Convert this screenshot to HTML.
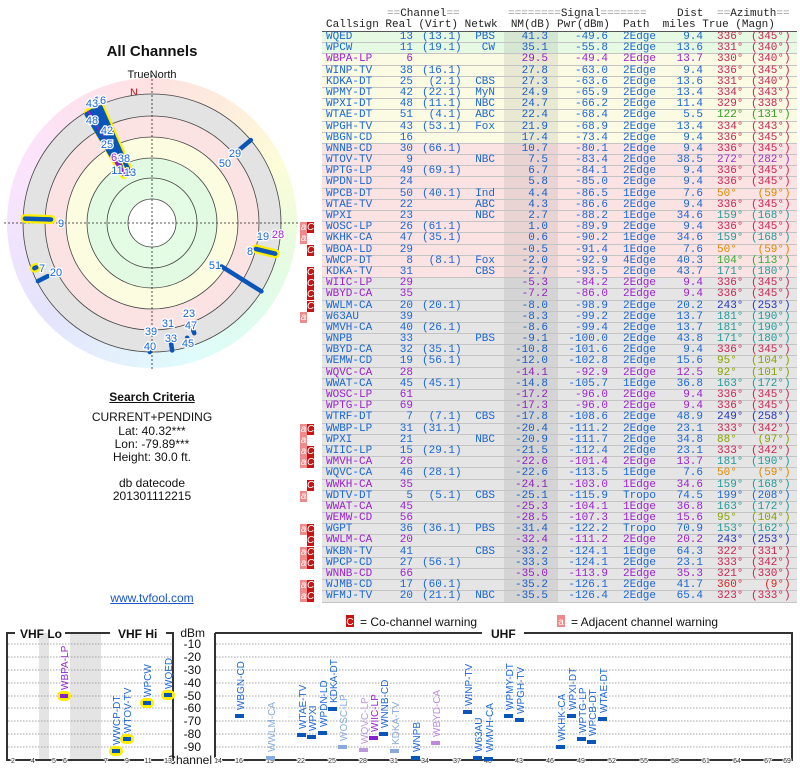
<!DOCTYPE html>
<html><head><meta charset="utf-8"><style>
body{margin:0;width:800px;height:768px;background:#fff;overflow:hidden;position:relative;font-family:"Liberation Sans",sans-serif}
#tbl{position:absolute;left:322px;top:32px;width:475px;font-family:"Liberation Mono",monospace;font-size:11px;color:#1a66d6}
.r{position:relative;height:11.2px;box-sizing:border-box;border-bottom:1px solid #c4c4c4;line-height:11px;white-space:pre}
.r span{position:absolute;top:0}
.G{background:#e6f9e2}.Y{background:#fbfbe4}.P{background:#fbe3e3}.X{background:#e5e5e5}
.r:after{content:"";position:absolute;left:182px;width:54px;top:0;bottom:0;background:rgba(0,0,0,0.07)}
.pu{color:#9a22d0}
.a{left:4px}.b{left:0;width:91px;text-align:right}.v{left:100px}.n{left:140px;width:33px;text-align:right}
.m{left:180px;width:46px;text-align:right}.p{left:230px;width:56px;text-align:right}.h{left:301px}
.d{left:330px;width:51px;text-align:right}.t{left:395px}.g{left:429px}
.k1{color:#cc2255}.k2{color:#339922}.k3{color:#9933bb}.k4{color:#dd8800}.k5{color:#1f9a9a}.k6{color:#33aa33}.k7{color:#88a000}.k8{color:#2233bb}.k9{color:#2266cc}.k0{color:#dd2222}
.wa,.wc{position:absolute;top:0;width:7px;height:11px;color:#fff;font-size:10px;line-height:11px;text-align:center;font-family:"Liberation Sans",sans-serif}
.wa{left:-22px;background:#f08a8a}.wc{left:-15px;background:#c81414}
#hdr{position:absolute;left:322px;top:8px;width:475px;height:23px;font-family:"Liberation Mono",monospace;font-size:11px;color:#222;border-bottom:1px solid #555;white-space:pre}
#hdr span{position:absolute}
.eq{color:#999}
.lt{position:absolute;width:300px;text-align:center;left:2px;font-size:12px;color:#111}
</style></head><body>

<div style="position:absolute;left:7px;top:78px;width:290px;height:290px;border-radius:50%;background:conic-gradient(hsl(0,90%,94%),hsl(30,90%,93%),hsl(60,90%,92%),hsl(100,80%,93%),hsl(150,80%,93%),hsl(180,80%,93%),hsl(210,80%,94%),hsl(240,80%,94%),hsl(270,80%,94%),hsl(300,80%,94%),hsl(330,90%,94%),hsl(360,90%,94%))"></div>

<svg width="300" height="768" style="position:absolute;left:0;top:0" font-family="Liberation Sans, sans-serif">
<text x="152" y="56" text-anchor="middle" font-size="15" font-weight="bold" fill="#111">All Channels</text>
<text x="152" y="78" text-anchor="middle" font-size="11" fill="#111">TrueNorth</text>
<text x="134" y="96" text-anchor="middle" font-size="11" fill="#cc1111">N</text>
<g transform="translate(152,223)">
<circle r="129" fill="#e3e3e3" stroke="#444" stroke-width="0.8"/>
<circle r="107" fill="#fce3e3" stroke="#444" stroke-width="0.8"/>
<circle r="86" fill="#fcfce0" stroke="#444" stroke-width="0.8"/>
<circle r="65" fill="#e2fae2" stroke="#444" stroke-width="0.8"/>
<circle r="45" fill="#e4fbe4" stroke="#444" stroke-width="0.8"/>
<circle r="24" fill="#fff" stroke="#444" stroke-width="0.8"/>
<line x1="-148" y1="0" x2="148" y2="0" stroke="#222" stroke-width="0.8" stroke-dasharray="2,2"/>
<line x1="0" y1="-148" x2="0" y2="148" stroke="#222" stroke-width="0.8" stroke-dasharray="2,2"/>
<g stroke-linecap="round">
<g stroke="#ffee00" stroke-width="9">
<line transform="rotate(336)" x1="0" y1="-56" x2="0" y2="-127"/>
<line transform="rotate(331)" x1="0" y1="-65" x2="0" y2="-127"/>
<line transform="rotate(330)" x1="0" y1="-56" x2="0" y2="-127"/>
<line transform="rotate(272)" x1="0" y1="-101" x2="0" y2="-127"/>
<line transform="rotate(104)" x1="0" y1="-107" x2="0" y2="-127"/>
<line transform="rotate(249)" x1="0" y1="-124" x2="0" y2="-126"/>
</g>
<g stroke="#0a55b8" stroke-width="4.5">
<line transform="rotate(336)" x1="0" y1="-56" x2="0" y2="-127"/>
<line transform="rotate(331)" x1="0" y1="-65" x2="0" y2="-127"/>
<line transform="rotate(330)" x1="0" y1="-56" x2="0" y2="-127" stroke="#8822cc"/>
<line transform="rotate(336)" x1="0" y1="-75" x2="0" y2="-127"/>
<line transform="rotate(332)" x1="0" y1="-76" x2="0" y2="-127"/>
<line transform="rotate(334)" x1="0" y1="-79" x2="0" y2="-127"/>
<line transform="rotate(329)" x1="0" y1="-79" x2="0" y2="-127"/>
<line transform="rotate(122)" x1="0" y1="-82" x2="0" y2="-129"/>
<line transform="rotate(272)" x1="0" y1="-101" x2="0" y2="-127"/>
<line transform="rotate(50)" x1="0" y1="-115" x2="0" y2="-129"/>
<line transform="rotate(104)" x1="0" y1="-107" x2="0" y2="-127"/>
<line transform="rotate(249)" x1="0" y1="-124" x2="0" y2="-126"/>
<line transform="rotate(243)" x1="0" y1="-117" x2="0" y2="-128"/>
<line transform="rotate(159)" x1="0" y1="-112" x2="0" y2="-118"/>
<line transform="rotate(163)" x1="0" y1="-120" x2="0" y2="-128"/>
<line transform="rotate(171)" x1="0" y1="-117" x2="0" y2="-129"/>
<line transform="rotate(181)" x1="0" y1="-122" x2="0" y2="-129"/>
<line transform="rotate(95)" x1="0" y1="-122" x2="0" y2="-128" stroke-width="2"/>
</g></g>
<g font-size="11" fill="#1a66d6" stroke="#fff" stroke-width="2.5" paint-order="stroke" text-anchor="middle">
<text x="-52" y="-119">16</text><text x="-60" y="-116">43</text><text x="-60" y="-99">48</text>
<text x="-45" y="-89">42</text><text x="-45" y="-75">25</text><text x="-38" y="-62" fill="#9a22d0">6</text>
<text x="-28" y="-61">38</text><text x="-35" y="-49">11</text><text x="-22" y="-47">13</text>
<text x="83" y="-66">29</text><text x="73" y="-56">50</text>
<text x="-91" y="4">9</text><text x="98" y="32">8</text><text x="111" y="17">19</text><text x="126" y="15" fill="#9a22d0">28</text>
<text x="63" y="46">51</text><text x="-110" y="49">7</text><text x="-96" y="53">20</text>
<text x="37" y="94">23</text><text x="39" y="106">47</text><text x="36" y="124">45</text>
<text x="16" y="104">31</text><text x="19" y="119">33</text><text x="-1" y="112">39</text><text x="-2" y="127">40</text>
</g></g>
</svg>

<div class="lt" style="top:390px;font-weight:bold;text-decoration:underline">Search Criteria</div>
<div class="lt" style="top:410px">CURRENT+PENDING</div>
<div class="lt" style="top:424px">Lat: 40.32***</div>
<div class="lt" style="top:437px">Lon: -79.89***</div>
<div class="lt" style="top:450px">Height: 30.0 ft.</div>
<div class="lt" style="top:476px">db datecode</div>
<div class="lt" style="top:489px">201301112215</div>
<div class="lt" style="top:591px;color:#1a55cc;text-decoration:underline">www.tvfool.com</div>

<div id="hdr">
<span style="left:65px;top:0"><b class="eq" style="font-weight:normal">==</b>Channel<b class="eq" style="font-weight:normal">==</b></span>
<span style="left:186px;top:0"><b class="eq" style="font-weight:normal">========</b>Signal<b class="eq" style="font-weight:normal">=======</b></span>
<span style="left:355px;top:0">Dist</span>
<span style="left:395px;top:0"><b class="eq" style="font-weight:normal">==</b>Azimuth<b class="eq" style="font-weight:normal">==</b></span>
<span style="left:4px;top:11px">Callsign Real (Virt) Netwk  NM(dB) Pwr(dBm)  Path  miles True (Magn)</span>
</div>

<div id="tbl">
<div class="r G"><span class="a">WQED</span><span class="b">13</span><span class="v">(13.1)</span><span class="n">PBS</span><span class="m">41.3</span><span class="p">-49.6</span><span class="h">2Edge</span><span class="d">9.4</span><span class="t k1">336°</span><span class="g k1">(345°)</span></div>
<div class="r G"><span class="a">WPCW</span><span class="b">11</span><span class="v">(19.1)</span><span class="n">CW</span><span class="m">35.1</span><span class="p">-55.8</span><span class="h">2Edge</span><span class="d">13.6</span><span class="t k1">331°</span><span class="g k1">(340°)</span></div>
<div class="r Y pu"><span class="a">WBPA-LP</span><span class="b">6</span><span class="m">29.5</span><span class="p">-49.4</span><span class="h">2Edge</span><span class="d">13.7</span><span class="t k1">330°</span><span class="g k1">(340°)</span></div>
<div class="r Y"><span class="a">WINP-TV</span><span class="b">38</span><span class="v">(16.1)</span><span class="m">27.8</span><span class="p">-63.0</span><span class="h">2Edge</span><span class="d">9.4</span><span class="t k1">336°</span><span class="g k1">(345°)</span></div>
<div class="r Y"><span class="a">KDKA-DT</span><span class="b">25</span><span class="v"> (2.1)</span><span class="n">CBS</span><span class="m">27.3</span><span class="p">-63.6</span><span class="h">2Edge</span><span class="d">13.6</span><span class="t k1">331°</span><span class="g k1">(340°)</span></div>
<div class="r Y"><span class="a">WPMY-DT</span><span class="b">42</span><span class="v">(22.1)</span><span class="n">MyN</span><span class="m">24.9</span><span class="p">-65.9</span><span class="h">2Edge</span><span class="d">13.4</span><span class="t k1">334°</span><span class="g k1">(343°)</span></div>
<div class="r Y"><span class="a">WPXI-DT</span><span class="b">48</span><span class="v">(11.1)</span><span class="n">NBC</span><span class="m">24.7</span><span class="p">-66.2</span><span class="h">2Edge</span><span class="d">11.4</span><span class="t k1">329°</span><span class="g k1">(338°)</span></div>
<div class="r Y"><span class="a">WTAE-DT</span><span class="b">51</span><span class="v"> (4.1)</span><span class="n">ABC</span><span class="m">22.4</span><span class="p">-68.4</span><span class="h">2Edge</span><span class="d">5.5</span><span class="t k2">122°</span><span class="g k2">(131°)</span></div>
<div class="r Y"><span class="a">WPGH-TV</span><span class="b">43</span><span class="v">(53.1)</span><span class="n">Fox</span><span class="m">21.9</span><span class="p">-68.9</span><span class="h">2Edge</span><span class="d">13.4</span><span class="t k1">334°</span><span class="g k1">(343°)</span></div>
<div class="r Y"><span class="a">WBGN-CD</span><span class="b">16</span><span class="m">17.4</span><span class="p">-73.4</span><span class="h">2Edge</span><span class="d">9.4</span><span class="t k1">336°</span><span class="g k1">(345°)</span></div>
<div class="r P"><span class="a">WNNB-CD</span><span class="b">30</span><span class="v">(66.1)</span><span class="m">10.7</span><span class="p">-80.1</span><span class="h">2Edge</span><span class="d">9.4</span><span class="t k1">336°</span><span class="g k1">(345°)</span></div>
<div class="r P"><span class="a">WTOV-TV</span><span class="b">9</span><span class="n">NBC</span><span class="m">7.5</span><span class="p">-83.4</span><span class="h">2Edge</span><span class="d">38.5</span><span class="t k3">272°</span><span class="g k3">(282°)</span></div>
<div class="r P"><span class="a">WPTG-LP</span><span class="b">49</span><span class="v">(69.1)</span><span class="m">6.7</span><span class="p">-84.1</span><span class="h">2Edge</span><span class="d">9.4</span><span class="t k1">336°</span><span class="g k1">(345°)</span></div>
<div class="r P"><span class="a">WPDN-LD</span><span class="b">24</span><span class="m">5.8</span><span class="p">-85.0</span><span class="h">2Edge</span><span class="d">9.4</span><span class="t k1">336°</span><span class="g k1">(345°)</span></div>
<div class="r P"><span class="a">WPCB-DT</span><span class="b">50</span><span class="v">(40.1)</span><span class="n">Ind</span><span class="m">4.4</span><span class="p">-86.5</span><span class="h">1Edge</span><span class="d">7.6</span><span class="t k4">50°</span><span class="g k4"> (59°)</span></div>
<div class="r P"><span class="a">WTAE-TV</span><span class="b">22</span><span class="n">ABC</span><span class="m">4.3</span><span class="p">-86.6</span><span class="h">2Edge</span><span class="d">9.4</span><span class="t k1">336°</span><span class="g k1">(345°)</span></div>
<div class="r P"><span class="a">WPXI</span><span class="b">23</span><span class="n">NBC</span><span class="m">2.7</span><span class="p">-88.2</span><span class="h">1Edge</span><span class="d">34.6</span><span class="t k5">159°</span><span class="g k5">(168°)</span></div>
<div class="r P"><i class="wa">a</i><i class="wc">C</i><span class="a">WOSC-LP</span><span class="b">26</span><span class="v">(61.1)</span><span class="m">1.0</span><span class="p">-89.9</span><span class="h">2Edge</span><span class="d">9.4</span><span class="t k1">336°</span><span class="g k1">(345°)</span></div>
<div class="r P"><i class="wa">a</i><span class="a">WKHK-CA</span><span class="b">47</span><span class="v">(35.1)</span><span class="m">0.6</span><span class="p">-90.2</span><span class="h">1Edge</span><span class="d">34.6</span><span class="t k5">159°</span><span class="g k5">(168°)</span></div>
<div class="r P"><i class="wc">C</i><span class="a">WBOA-LD</span><span class="b">29</span><span class="m">-0.5</span><span class="p">-91.4</span><span class="h">1Edge</span><span class="d">7.6</span><span class="t k4">50°</span><span class="g k4"> (59°)</span></div>
<div class="r P"><span class="a">WWCP-DT</span><span class="b">8</span><span class="v"> (8.1)</span><span class="n">Fox</span><span class="m">-2.0</span><span class="p">-92.9</span><span class="h">4Edge</span><span class="d">40.3</span><span class="t k6">104°</span><span class="g k6">(113°)</span></div>
<div class="r P"><i class="wc">C</i><span class="a">KDKA-TV</span><span class="b">31</span><span class="n">CBS</span><span class="m">-2.7</span><span class="p">-93.5</span><span class="h">2Edge</span><span class="d">43.7</span><span class="t k5">171°</span><span class="g k5">(180°)</span></div>
<div class="r X pu"><i class="wc">C</i><span class="a">WIIC-LP</span><span class="b">29</span><span class="m">-5.3</span><span class="p">-84.2</span><span class="h">2Edge</span><span class="d">9.4</span><span class="t k1">336°</span><span class="g k1">(345°)</span></div>
<div class="r X pu"><i class="wc">C</i><span class="a">WBYD-CA</span><span class="b">35</span><span class="m">-7.2</span><span class="p">-86.0</span><span class="h">2Edge</span><span class="d">9.4</span><span class="t k1">336°</span><span class="g k1">(345°)</span></div>
<div class="r X"><i class="wc">C</i><span class="a">WWLM-CA</span><span class="b">20</span><span class="v">(20.1)</span><span class="m">-8.0</span><span class="p">-98.9</span><span class="h">2Edge</span><span class="d">20.2</span><span class="t k8">243°</span><span class="g k8">(253°)</span></div>
<div class="r X"><i class="wa">a</i><span class="a">W63AU</span><span class="b">39</span><span class="m">-8.3</span><span class="p">-99.2</span><span class="h">2Edge</span><span class="d">13.7</span><span class="t k5">181°</span><span class="g k5">(190°)</span></div>
<div class="r X"><span class="a">WMVH-CA</span><span class="b">40</span><span class="v">(26.1)</span><span class="m">-8.6</span><span class="p">-99.4</span><span class="h">2Edge</span><span class="d">13.7</span><span class="t k5">181°</span><span class="g k5">(190°)</span></div>
<div class="r X"><span class="a">WNPB</span><span class="b">33</span><span class="n">PBS</span><span class="m">-9.1</span><span class="p">-100.0</span><span class="h">2Edge</span><span class="d">43.8</span><span class="t k5">171°</span><span class="g k5">(180°)</span></div>
<div class="r X"><span class="a">WBYD-CA</span><span class="b">32</span><span class="v">(35.1)</span><span class="m">-10.8</span><span class="p">-101.6</span><span class="h">2Edge</span><span class="d">9.4</span><span class="t k1">336°</span><span class="g k1">(345°)</span></div>
<div class="r X"><span class="a">WEMW-CD</span><span class="b">19</span><span class="v">(56.1)</span><span class="m">-12.0</span><span class="p">-102.8</span><span class="h">2Edge</span><span class="d">15.6</span><span class="t k7">95°</span><span class="g k7">(104°)</span></div>
<div class="r X pu"><span class="a">WQVC-CA</span><span class="b">28</span><span class="m">-14.1</span><span class="p">-92.9</span><span class="h">2Edge</span><span class="d">12.5</span><span class="t k7">92°</span><span class="g k7">(101°)</span></div>
<div class="r X"><span class="a">WWAT-CA</span><span class="b">45</span><span class="v">(45.1)</span><span class="m">-14.8</span><span class="p">-105.7</span><span class="h">1Edge</span><span class="d">36.8</span><span class="t k5">163°</span><span class="g k5">(172°)</span></div>
<div class="r X pu"><span class="a">WOSC-LP</span><span class="b">61</span><span class="m">-17.2</span><span class="p">-96.0</span><span class="h">2Edge</span><span class="d">9.4</span><span class="t k1">336°</span><span class="g k1">(345°)</span></div>
<div class="r X pu"><span class="a">WPTG-LP</span><span class="b">69</span><span class="m">-17.3</span><span class="p">-96.0</span><span class="h">2Edge</span><span class="d">9.4</span><span class="t k1">336°</span><span class="g k1">(345°)</span></div>
<div class="r X"><span class="a">WTRF-DT</span><span class="b">7</span><span class="v"> (7.1)</span><span class="n">CBS</span><span class="m">-17.8</span><span class="p">-108.6</span><span class="h">2Edge</span><span class="d">48.9</span><span class="t k8">249°</span><span class="g k8">(258°)</span></div>
<div class="r X"><i class="wa">a</i><i class="wc">C</i><span class="a">WWBP-LP</span><span class="b">31</span><span class="v">(31.1)</span><span class="m">-20.4</span><span class="p">-111.2</span><span class="h">2Edge</span><span class="d">23.1</span><span class="t k1">333°</span><span class="g k1">(342°)</span></div>
<div class="r X"><i class="wa">a</i><span class="a">WPXI</span><span class="b">21</span><span class="n">NBC</span><span class="m">-20.9</span><span class="p">-111.7</span><span class="h">2Edge</span><span class="d">34.8</span><span class="t k7">88°</span><span class="g k7"> (97°)</span></div>
<div class="r X"><i class="wa">a</i><i class="wc">C</i><span class="a">WIIC-LP</span><span class="b">15</span><span class="v">(29.1)</span><span class="m">-21.5</span><span class="p">-112.4</span><span class="h">2Edge</span><span class="d">23.1</span><span class="t k1">333°</span><span class="g k1">(342°)</span></div>
<div class="r X pu"><i class="wa">a</i><i class="wc">C</i><span class="a">WMVH-CA</span><span class="b">26</span><span class="m">-22.6</span><span class="p">-101.4</span><span class="h">2Edge</span><span class="d">13.7</span><span class="t k5">181°</span><span class="g k5">(190°)</span></div>
<div class="r X"><span class="a">WQVC-CA</span><span class="b">46</span><span class="v">(28.1)</span><span class="m">-22.6</span><span class="p">-113.5</span><span class="h">1Edge</span><span class="d">7.6</span><span class="t k4">50°</span><span class="g k4"> (59°)</span></div>
<div class="r X pu"><i class="wc">C</i><span class="a">WWKH-CA</span><span class="b">35</span><span class="m">-24.1</span><span class="p">-103.0</span><span class="h">1Edge</span><span class="d">34.6</span><span class="t k5">159°</span><span class="g k5">(168°)</span></div>
<div class="r X"><i class="wa">a</i><span class="a">WDTV-DT</span><span class="b">5</span><span class="v"> (5.1)</span><span class="n">CBS</span><span class="m">-25.1</span><span class="p">-115.9</span><span class="h">Tropo</span><span class="d">74.5</span><span class="t k9">199°</span><span class="g k9">(208°)</span></div>
<div class="r X pu"><span class="a">WWAT-CA</span><span class="b">45</span><span class="m">-25.3</span><span class="p">-104.1</span><span class="h">1Edge</span><span class="d">36.8</span><span class="t k5">163°</span><span class="g k5">(172°)</span></div>
<div class="r X pu"><span class="a">WEMW-CD</span><span class="b">56</span><span class="m">-28.5</span><span class="p">-107.3</span><span class="h">1Edge</span><span class="d">15.6</span><span class="t k7">95°</span><span class="g k7">(104°)</span></div>
<div class="r X"><i class="wa">a</i><i class="wc">C</i><span class="a">WGPT</span><span class="b">36</span><span class="v">(36.1)</span><span class="n">PBS</span><span class="m">-31.4</span><span class="p">-122.2</span><span class="h">Tropo</span><span class="d">70.9</span><span class="t k5">153°</span><span class="g k5">(162°)</span></div>
<div class="r X pu"><i class="wc">C</i><span class="a">WWLM-CA</span><span class="b">20</span><span class="m">-32.4</span><span class="p">-111.2</span><span class="h">2Edge</span><span class="d">20.2</span><span class="t k8">243°</span><span class="g k8">(253°)</span></div>
<div class="r X"><i class="wa">a</i><i class="wc">C</i><span class="a">WKBN-TV</span><span class="b">41</span><span class="n">CBS</span><span class="m">-33.2</span><span class="p">-124.1</span><span class="h">1Edge</span><span class="d">64.3</span><span class="t k1">322°</span><span class="g k1">(331°)</span></div>
<div class="r X"><i class="wa">a</i><i class="wc">C</i><span class="a">WPCP-CD</span><span class="b">27</span><span class="v">(56.1)</span><span class="m">-33.3</span><span class="p">-124.1</span><span class="h">2Edge</span><span class="d">23.1</span><span class="t k1">333°</span><span class="g k1">(342°)</span></div>
<div class="r X pu"><span class="a">WNNB-CD</span><span class="b">66</span><span class="m">-35.0</span><span class="p">-113.9</span><span class="h">2Edge</span><span class="d">35.3</span><span class="t k1">321°</span><span class="g k1">(330°)</span></div>
<div class="r X"><i class="wa">a</i><i class="wc">C</i><span class="a">WJMB-CD</span><span class="b">17</span><span class="v">(60.1)</span><span class="m">-35.2</span><span class="p">-126.1</span><span class="h">2Edge</span><span class="d">41.7</span><span class="t k0">360°</span><span class="g k0">  (9°)</span></div>
<div class="r X"><i class="wa">a</i><i class="wc">C</i><span class="a">WFMJ-TV</span><span class="b">20</span><span class="v">(21.1)</span><span class="n">NBC</span><span class="m">-35.5</span><span class="p">-126.4</span><span class="h">2Edge</span><span class="d">65.4</span><span class="t k1">323°</span><span class="g k1">(333°)</span></div>
</div>

<svg width="800" height="768" style="position:absolute;left:0;top:0" font-family="Liberation Sans, sans-serif">
<rect x="346" y="615" width="8" height="12" fill="#c81414"/><text x="350" y="625" font-size="10" fill="#fff" text-anchor="middle">C</text>
<text x="360" y="626" font-size="12" fill="#111">= Co-channel warning</text>
<rect x="557" y="615" width="8" height="12" fill="#f08a8a"/><text x="561" y="625" font-size="10" fill="#fff" text-anchor="middle">a</text>
<text x="571" y="626" font-size="12" fill="#111">= Adjacent channel warning</text>
<rect x="39" y="633" width="10" height="127" fill="#e4e4e4"/>
<rect x="70" y="633" width="31" height="127" fill="#e4e4e4"/>
<g stroke="#888" stroke-width="0.8" stroke-dasharray="1.5,1.5">
<path d="M8 644H172M8 657H172M8 670H172M8 683H172M8 696H172M8 708H172M8 721H172M8 734H172M8 747H172"/>
<path d="M216 644H791M216 657H791M216 670H791M216 683H791M216 696H791M216 708H791M216 721H791M216 734H791M216 747H791"/>
</g>
<g stroke="#333" stroke-width="2" fill="none">
<path d="M15 633H7V760H173V633H166"/><path d="M65 633H110"/>
<path d="M215 633V760H792V633H524"/><path d="M215 633H482"/>
</g>
<text x="20" y="638" font-size="12" font-weight="bold" fill="#111">VHF Lo</text>
<text x="118" y="638" font-size="12" font-weight="bold" fill="#111">VHF Hi</text>
<text x="491" y="638" font-size="12" font-weight="bold" fill="#111">UHF</text>
<g font-size="12" fill="#111" text-anchor="end">
<text x="205" y="637">dBm</text><text x="201" y="648">-10</text><text x="201" y="661">-20</text><text x="201" y="674">-30</text><text x="201" y="687">-40</text><text x="201" y="700">-50</text><text x="201" y="712">-60</text><text x="201" y="725">-70</text><text x="201" y="738">-80</text><text x="201" y="751">-90</text><text x="212" y="764">Channel</text>
</g>
<g font-size="7" fill="#333" text-anchor="middle" stroke="#fff" stroke-width="2" paint-order="stroke">
<text x="13" y="763">2</text><text x="33" y="763">4</text><text x="54" y="763">5</text><text x="65" y="763">6</text><text x="106" y="763">7</text><text x="127" y="763">9</text><text x="148" y="763">11</text><text x="168" y="763">13</text>
<text x="218" y="763">14</text><text x="239" y="763">16</text><text x="270" y="763">19</text><text x="301" y="763">22</text><text x="332" y="763">25</text><text x="363" y="763">28</text><text x="394" y="763">31</text><text x="425" y="763">34</text><text x="457" y="763">37</text><text x="488" y="763">40</text><text x="519" y="763">43</text><text x="550" y="763">46</text><text x="581" y="763">49</text><text x="612" y="763">52</text><text x="644" y="763">55</text><text x="675" y="763">58</text><text x="706" y="763">61</text><text x="737" y="763">64</text><text x="768" y="763">67</text><text x="787" y="763">69</text>
</g>
<g fill="#ffee00"><rect x="57" y="691" width="14" height="10" rx="5"/><rect x="109" y="746" width="14" height="10" rx="5"/><rect x="120" y="734" width="14" height="10" rx="5"/><rect x="140" y="698" width="14" height="10" rx="5"/><rect x="161" y="690" width="14" height="10" rx="5"/></g>
<g fill="#0a55b8">
<rect x="60" y="694" width="8" height="4" fill="#8822cc"/><rect x="112" y="749" width="8" height="4"/><rect x="123" y="737" width="8" height="4"/><rect x="143" y="701" width="8" height="4"/><rect x="164" y="693" width="8" height="4"/>
<rect x="235" y="714" width="9" height="4"/><rect x="297" y="733" width="9" height="4"/><rect x="307" y="735" width="9" height="4"/><rect x="318" y="731" width="9" height="4"/><rect x="328" y="707" width="9" height="4"/>
<rect x="369" y="736" width="9" height="4" fill="#8822cc"/><rect x="379" y="732" width="9" height="4"/>
<rect x="411" y="756" width="9" height="4"/><rect x="463" y="710" width="9" height="4"/><rect x="473" y="756" width="9" height="4"/><rect x="484" y="757" width="9" height="4"/>
<rect x="504" y="714" width="9" height="4"/><rect x="515" y="718" width="9" height="4"/><rect x="556" y="745" width="9" height="4"/><rect x="567" y="714" width="9" height="4"/><rect x="577" y="737" width="9" height="4"/><rect x="587" y="740" width="9" height="4"/><rect x="598" y="717" width="9" height="4"/>
</g>
<g fill="#88aadd"><rect x="266" y="756" width="9" height="4"/><rect x="338" y="745" width="9" height="4"/><rect x="359" y="748" width="9" height="4" fill="#bb99dd"/><rect x="390" y="749" width="9" height="4"/><rect x="431" y="741" width="9" height="4" fill="#bb88dd"/></g>
<g font-size="10" fill="#1a66d6">
<text transform="translate(68,690) rotate(-90)" fill="#9a22d0">WBPA-LP</text>
<text transform="translate(120,745) rotate(-90)">WWCP-DT</text>
<text transform="translate(131,733) rotate(-90)">WTOV-TV</text>
<text transform="translate(151,697) rotate(-90)">WPCW</text>
<text transform="translate(172,689) rotate(-90)">WQED</text>
<text transform="translate(244,710) rotate(-90)">WBGN-CD</text>
<text transform="translate(306,729) rotate(-90)">WTAE-TV</text>
<text transform="translate(316,731) rotate(-90)">WPXI</text>
<text transform="translate(327,727) rotate(-90)">WPDN-LD</text>
<text transform="translate(337,703) rotate(-90)">KDKA-DT</text>
<text transform="translate(378,732) rotate(-90)" fill="#9a22d0">WIIC-LP</text>
<text transform="translate(388,728) rotate(-90)">WNNB-CD</text>
<text transform="translate(420,752) rotate(-90)">WNPB</text>
<text transform="translate(472,706) rotate(-90)">WINP-TV</text>
<text transform="translate(482,752) rotate(-90)">W63AU</text>
<text transform="translate(493,752) rotate(-90)">WMVH-CA</text>
<text transform="translate(513,710) rotate(-90)">WPMY-DT</text>
<text transform="translate(524,714) rotate(-90)">WPGH-TV</text>
<text transform="translate(565,741) rotate(-90)">WKHK-CA</text>
<text transform="translate(576,710) rotate(-90)">WPXI-DT</text>
<text transform="translate(586,733) rotate(-90)">WPTG-LP</text>
<text transform="translate(596,736) rotate(-90)">WPCB-DT</text>
<text transform="translate(607,713) rotate(-90)">WTAE-DT</text>
<g fill="#88aadd"><text transform="translate(275,752) rotate(-90)">WWLM-CA</text><text transform="translate(347,741) rotate(-90)">WOSC-LP</text><text transform="translate(368,744) rotate(-90)" fill="#bb99dd">WQVC-LP</text><text transform="translate(399,745) rotate(-90)">KDKA-TV</text><text transform="translate(440,737) rotate(-90)" fill="#bb88dd">WBYD-CA</text></g>
</g>
</svg>
</body></html>
